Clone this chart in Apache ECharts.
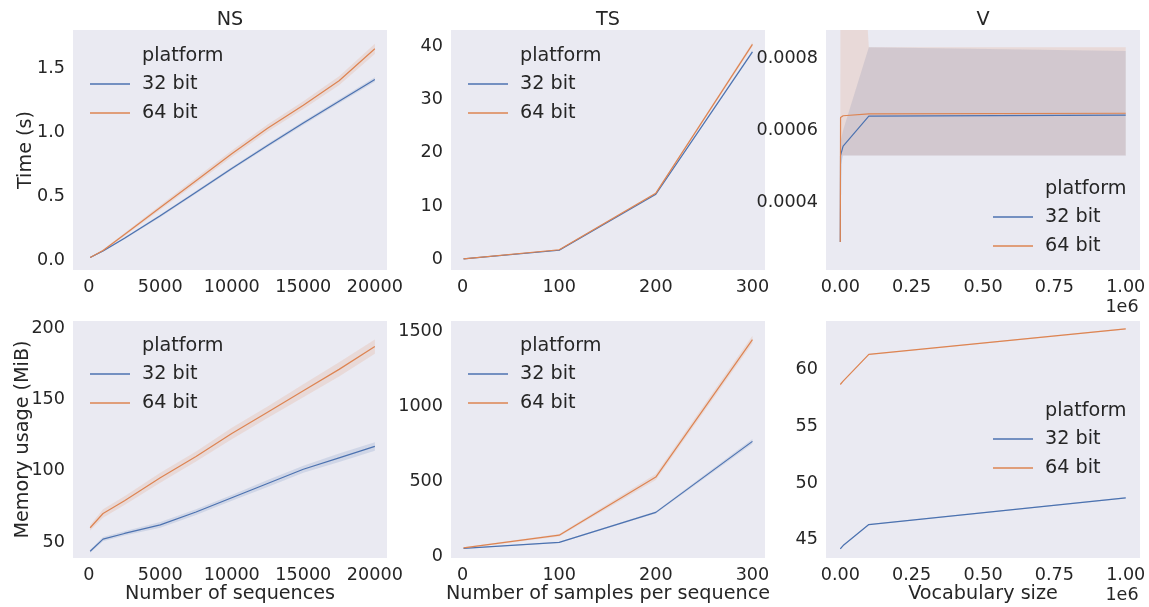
<!DOCTYPE html>
<html>
<head>
<meta charset="utf-8">
<script src="https://cdn.jsdelivr.net/npm/echarts@6/dist/echarts.min.js"></script>
<style>
  html, body { margin: 0; padding: 0; background: #ffffff; }
  #chart { width: 1149px; height: 607px; }
</style>
</head>
<body>
<div id="chart"></div>
<script>
// ---- Benchmark data: time and memory by platform ----
const platforms = ['32 bit', '64 bit'];
const panelTitles = ['NS', 'TS', 'V'];
const xNames = ['Number of sequences', 'Number of samples per sequence', 'Vocabulary size'];
const yNames = ['Time (s)', 'Memory usage (MiB)'];

// NS: number of sequences
const nsSizes   = [100, 1000, 2500, 5000, 7500, 10000, 12500, 15000, 17500, 20000];
const nsTime32  = [0.02, 0.07, 0.17, 0.345, 0.53, 0.715, 0.895, 1.07, 1.24, 1.41];
const nsTime64  = [0.02, 0.075, 0.20, 0.41, 0.62, 0.83, 1.03, 1.21, 1.40, 1.65];
const nsTime32Ci = [0.004, 0.006, 0.008, 0.010, 0.012, 0.012, 0.014, 0.015, 0.016, 0.018];
const nsTime64Ci = [0.004, 0.008, 0.012, 0.018, 0.022, 0.025, 0.028, 0.030, 0.035, 0.040];
const nsMem32   = [43.5, 52, 56, 62, 71, 81, 91, 101, 109, 117];
const nsMem64   = [60, 70, 79, 95, 110, 126, 141, 156, 171, 187];
const nsMem32Ci = [1, 1.5, 1.5, 2, 2, 2, 2.5, 2.5, 3, 3];
const nsMem64Ci = [2, 3, 3, 3.5, 3.5, 4, 4, 4.5, 5, 5];

// TS: samples per sequence
const tsSamples  = [1, 100, 200, 300];
const tsTime32   = [0.1, 1.7, 12.2, 38.9];
const tsTime64   = [0.1, 1.8, 12.4, 40.3];
const tsTime32Ci = [0.05, 0.1, 0.2, 0.3];
const tsTime64Ci = [0.05, 0.1, 0.2, 0.4];
const tsMem32    = [55, 95, 295, 768];
const tsMem64    = [58, 143, 530, 1446];
const tsMem32Ci  = [3, 4, 8, 15];
const tsMem64Ci  = [4, 8, 20, 25];

// V: vocabulary size
const vocabSizes = [100, 1000, 10000, 100000, 1000000];
const vTime32    = [0.00029, 0.00053, 0.000556, 0.000639, 0.000642];
const vTime64    = [0.00029, 0.000635, 0.000640, 0.000645, 0.000647];
const vTime32Lo  = [0.00028, 0.00050, 0.00053, 0.00053, 0.00053];
const vTime32Hi  = [0.00030, 0.00057, 0.00060, 0.00083, 0.00082];
const vTime64Lo  = [0.00028, 0.00053, 0.00053, 0.00053, 0.00053];
const vTime64Hi  = [0.00030, 0.0020, 0.0020, 0.00083, 0.00083];
const vMem32     = [44.2, 44.3, 44.5, 46.35, 48.7];
const vMem64     = [58.7, 58.8, 59.0, 61.35, 63.6];
const vMem32Ci   = [0.05, 0.05, 0.05, 0.05, 0.05];
const vMem64Ci   = [0.05, 0.05, 0.05, 0.05, 0.05];

// Tick values for each axis
const nsTicks    = [0, 5000, 10000, 15000, 20000];
const tsTicks    = [0, 100, 200, 300];
const vocabTicks = [0, 250000, 500000, 750000, 1000000];
const yTicks = [
  [0, 0.5, 1.0, 1.5],
  [0, 10, 20, 30, 40],
  [0.0004, 0.0006, 0.0008],
  [50, 100, 150, 200],
  [0, 500, 1000, 1500],
  [45, 50, 55, 60]
];

// ---- styling ----
const FONT = 'DejaVu Sans';
const TEXT = '#262626';
const BLUE = '#4c72b0';
const ORANGE = '#dd8452';
const PLOT_BG = '#eaeaf2';
const TICK_SIZE = 17.6;
const LABEL_SIZE = 19.2;

const colLeft = [73, 451, 826];
const colWidth = 314;
const rowTop = [30, 321];
const rowHeight = [240, 237];

const xRanges = [[-1100, 20850], [-12, 313], [-50000, 1050000]];
const yRanges = [
  [-0.078, 1.797], [-2, 43], [0.000212, 0.000878],
  [38.8, 204.9], [-9, 1570], [43.4, 64.3]
];
const xTickSets = [nsTicks, tsTicks, vocabTicks];
const xFormatters = [
  v => String(v),
  v => String(v),
  v => (v / 1e6).toFixed(2)
];
const yFormatters = [
  v => v.toFixed(1),
  v => String(v),
  v => v.toFixed(4),
  v => String(v),
  v => String(v),
  v => String(v)
];

function symmetric(vals, ci, sign) {
  return vals.map((v, i) => v + sign * ci[i]);
}

// Each panel: x values, [32-bit values, lo, hi], [64-bit values, lo, hi]
const panels = [
  { xs: nsSizes, a: [nsTime32, symmetric(nsTime32, nsTime32Ci, -1), symmetric(nsTime32, nsTime32Ci, 1)],
                 b: [nsTime64, symmetric(nsTime64, nsTime64Ci, -1), symmetric(nsTime64, nsTime64Ci, 1)] },
  { xs: tsSamples, a: [tsTime32, symmetric(tsTime32, tsTime32Ci, -1), symmetric(tsTime32, tsTime32Ci, 1)],
                   b: [tsTime64, symmetric(tsTime64, tsTime64Ci, -1), symmetric(tsTime64, tsTime64Ci, 1)] },
  { xs: vocabSizes, a: [vTime32, vTime32Lo, vTime32Hi], b: [vTime64, vTime64Lo, vTime64Hi] },
  { xs: nsSizes, a: [nsMem32, symmetric(nsMem32, nsMem32Ci, -1), symmetric(nsMem32, nsMem32Ci, 1)],
                 b: [nsMem64, symmetric(nsMem64, nsMem64Ci, -1), symmetric(nsMem64, nsMem64Ci, 1)] },
  { xs: tsSamples, a: [tsMem32, symmetric(tsMem32, tsMem32Ci, -1), symmetric(tsMem32, tsMem32Ci, 1)],
                   b: [tsMem64, symmetric(tsMem64, tsMem64Ci, -1), symmetric(tsMem64, tsMem64Ci, 1)] },
  { xs: vocabSizes, a: [vMem32, symmetric(vMem32, vMem32Ci, -1), symmetric(vMem32, vMem32Ci, 1)],
                    b: [vMem64, symmetric(vMem64, vMem64Ci, -1), symmetric(vMem64, vMem64Ci, 1)] }
];

// Legend anchor per panel: [line start x, title centre y]
const legendAnchors = [
  [90, 55], [468, 55], [993, 188],
  [90, 345], [468, 345], [993, 410]
];

const grids = [], xAxes = [], yAxes = [], series = [], legends = [], graphics = [];

function bandSeries(idx, xs, lo, hi, color) {
  return {
    type: 'custom',
    xAxisIndex: idx, yAxisIndex: idx,
    silent: true, clip: true, z: 1,
    data: [[xs[0], lo[0]]],
    renderItem: function (params, api) {
      const pts = [];
      for (let i = 0; i < xs.length; i++) pts.push(api.coord([xs[i], hi[i]]));
      for (let i = xs.length - 1; i >= 0; i--) pts.push(api.coord([xs[i], lo[i]]));
      return { type: 'polygon', shape: { points: pts }, style: { fill: color, opacity: 0.16 } };
    }
  };
}

function lineSeries(idx, name, xs, ys, color) {
  return {
    type: 'line', name: name,
    xAxisIndex: idx, yAxisIndex: idx,
    data: xs.map((x, i) => [x, ys[i]]),
    symbol: 'none', showSymbol: false, silent: true, z: 3,
    lineStyle: { color: color, width: 1.2 },
    itemStyle: { color: color },
    animation: false
  };
}

for (let p = 0; p < 6; p++) {
  const row = Math.floor(p / 3), col = p % 3;
  grids.push({
    left: colLeft[col], top: rowTop[row], width: colWidth, height: rowHeight[row],
    show: true, backgroundColor: PLOT_BG, borderWidth: 0
  });
  xAxes.push({
    type: 'value', gridIndex: p,
    min: xRanges[col][0], max: xRanges[col][1],
    axisLine: { show: false }, axisTick: { show: false }, splitLine: { show: false },
    axisLabel: {
      customValues: xTickSets[col], formatter: xFormatters[col],
      fontFamily: FONT, fontSize: TICK_SIZE, color: TEXT, margin: 8
    },
    name: row === 1 ? xNames[col] : '',
    nameLocation: 'middle', nameGap: 27, nameMoveOverlap: false,
    nameTextStyle: { fontFamily: FONT, fontSize: LABEL_SIZE, color: TEXT }
  });
  yAxes.push({
    type: 'value', gridIndex: p,
    min: yRanges[p][0], max: yRanges[p][1],
    axisLine: { show: false }, axisTick: { show: false }, splitLine: { show: false },
    axisLabel: {
      customValues: yTicks[p], formatter: yFormatters[p],
      fontFamily: FONT, fontSize: TICK_SIZE, color: TEXT, margin: 8
    },
    name: col === 0 ? yNames[row] : '',
    nameLocation: 'middle', nameGap: row === 0 ? 37 : 40, nameMoveOverlap: false,
    nameTextStyle: { fontFamily: FONT, fontSize: LABEL_SIZE, color: TEXT }
  });

  const pd = panels[p];
  series.push(bandSeries(p, pd.xs, pd.a[1], pd.a[2], BLUE));
  series.push(bandSeries(p, pd.xs, pd.b[1], pd.b[2], ORANGE));
  series.push(lineSeries(p, platforms[0], pd.xs, pd.a[0], BLUE));
  series.push(lineSeries(p, platforms[1], pd.xs, pd.b[0], ORANGE));

  const [lx, ty] = legendAnchors[p];
  legends.push({
    orient: 'vertical', left: lx, top: ty + 18, padding: 0,
    data: platforms, icon: 'rect', itemWidth: 40, itemHeight: 1.5, itemGap: 7,
    selectedMode: false,
    textStyle: { fontFamily: FONT, fontSize: LABEL_SIZE, color: TEXT, padding: [0, 0, 0, 7], lineHeight: 22 }
  });
  graphics.push({
    type: 'text', left: lx + 52, top: ty - 8, silent: true,
    style: { text: 'platform', font: LABEL_SIZE + 'px "' + FONT + '"', fill: TEXT }
  });
}

// Column titles
panelTitles.forEach((t, c) => {
  graphics.push({
    type: 'text', silent: true,
    x: colLeft[c] + colWidth / 2, y: 20,
    style: { text: t, font: LABEL_SIZE + 'px "' + FONT + '"', fill: TEXT, align: 'center', verticalAlign: 'middle' }
  });
});

// Scale offset text for the vocabulary axes
[307, 595].forEach(y => {
  graphics.push({
    type: 'text', silent: true, x: 1122, y: y,
    style: { text: '1e6', font: TICK_SIZE + 'px "' + FONT + '"', fill: TEXT, align: 'center', verticalAlign: 'middle' }
  });
});

const chart = echarts.init(document.getElementById('chart'), null, { renderer: 'canvas' });
chart.setOption({
  animation: false,
  backgroundColor: '#ffffff',
  textStyle: { fontFamily: FONT },
  grid: grids,
  xAxis: xAxes,
  yAxis: yAxes,
  legend: legends,
  series: series,
  graphic: graphics
});
</script>
</body>
</html>
